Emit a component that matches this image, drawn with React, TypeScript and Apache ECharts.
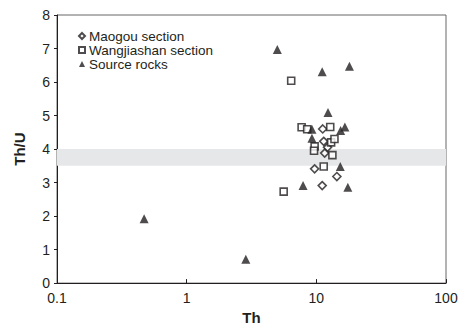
import React, { useEffect, useRef } from "react";
import * as echarts from "echarts";

const maogou: [number, number][] = [
  [11.2, 4.6], [11.4, 4.23], [12.2, 4.05], [11.6, 3.88], [9.7, 3.41], [14.4, 3.18], [11.1, 2.91],
];
const wangjiashan: [number, number][] = [
  [6.4, 6.04], [7.7, 4.65], [8.5, 4.59], [12.8, 4.66], [13.0, 4.2], [13.8, 4.3],
  [9.7, 4.08], [9.6, 3.95], [13.3, 3.82], [11.4, 3.48], [5.6, 2.73],
];
const sourceRocks: [number, number][] = [
  [0.47, 1.92], [2.86, 0.71], [5.0, 6.97], [11.1, 6.31], [18.0, 6.47], [12.3, 5.09],
  [9.25, 4.59], [15.4, 4.55], [16.6, 4.66], [9.25, 4.32], [15.3, 3.48], [7.9, 2.91], [17.5, 2.86],
];
const band: [number, number] = [3.5, 4.0];
const seriesNames = ["Maogou section", "Wangjiashan section", "Source rocks"];

const INK = "#231f20";
const FONT = "Liberation Sans, Arial, sans-serif";

export default function App() {
  const ref = useRef<HTMLDivElement>(null);
  useEffect(() => {
    if (!ref.current) return;
    const chart = echarts.init(ref.current, undefined, { renderer: "svg" });
    chart.setOption({
      animation: false,
      backgroundColor: "#fff",
      grid: {
        left: 57, right: 17, top: 15, bottom: 45,
        show: true, borderColor: "#666", borderWidth: 1, backgroundColor: "transparent",
      },
      legend: {
        orient: "vertical",
        left: 73, top: 24,
        itemWidth: 6, itemHeight: 6, itemGap: 0,
        textStyle: { fontSize: 13.5, color: INK, fontFamily: FONT, padding: [0, 0, 0, -1] },
        data: seriesNames,
      },
      xAxis: {
        type: "log", logBase: 10, min: 0.1, max: 100,
        name: "Th", nameLocation: "middle", nameGap: 26,
        nameTextStyle: { fontSize: 15, fontWeight: "bold", color: INK, fontFamily: FONT },
        axisLine: { lineStyle: { color: INK, width: 1 } },
        axisTick: { inside: true, length: 4, lineStyle: { color: INK } },
        axisLabel: {
          fontSize: 14, color: INK, fontFamily: FONT, margin: 8,
          formatter: (v: number) => (v < 1 ? String(v) : String(Math.round(v))),
        },
        minorTick: { show: false },
        splitLine: { show: false },
      },
      yAxis: {
        type: "value", min: 0, max: 8, interval: 1,
        name: "Th/U", nameLocation: "middle", nameGap: 30, nameRotate: 90,
        nameTextStyle: { fontSize: 15, fontWeight: "bold", color: INK, fontFamily: FONT },
        axisLine: { show: true, lineStyle: { color: INK, width: 1 } },
        axisTick: { show: true, length: 3, lineStyle: { color: INK } },
        axisLabel: { fontSize: 14, color: INK, fontFamily: FONT, margin: 7 },
        splitLine: { show: false },
      },
      series: [
        {
          type: "scatter", name: "band", data: [], z: 0, silent: true,
          markArea: {
            silent: true,
            itemStyle: { color: "#e6e7e8" },
            data: [[{ yAxis: band[0] }, { yAxis: band[1] }]],
          },
        },
        {
          type: "scatter", name: seriesNames[0], data: maogou, symbol: "diamond", symbolSize: 8, z: 3,
          itemStyle: { color: "#fff", borderColor: INK, borderWidth: 1.6 },
        },
        {
          type: "scatter", name: seriesNames[1], data: wangjiashan, symbol: "rect", symbolSize: 7, z: 3,
          itemStyle: { color: "#fff", borderColor: INK, borderWidth: 1.6 },
        },
        {
          type: "scatter", name: seriesNames[2], data: sourceRocks, symbol: "triangle", symbolSize: 9, z: 4,
          itemStyle: { color: INK },
        },
      ],
    });
    return () => chart.dispose();
  }, []);
  return <div ref={ref} style={{ width: 463, height: 330, position: "absolute", left: 0, top: 0 }} />;
}
